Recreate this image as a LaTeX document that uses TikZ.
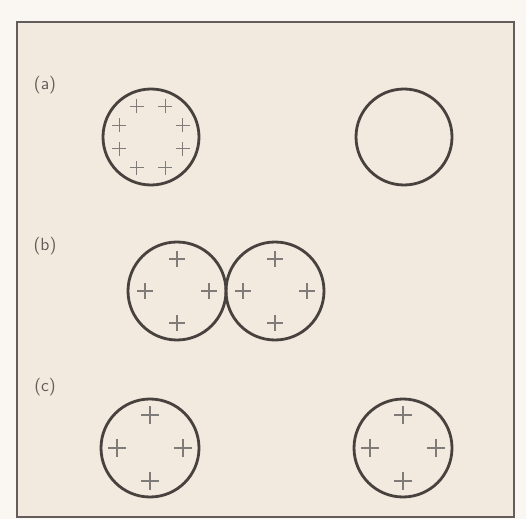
\documentclass[tikz,border=0pt]{standalone}
\definecolor{paper}{RGB}{243,234,223}
\definecolor{ink}{RGB}{72,66,62}
\tikzset{
  pics/charge/.style={code={\draw[line width=0.6pt, ink!70] (-#1,0) -- (#1,0) (0,-#1) -- (0,#1);}},
  pics/charge/.default=7
}
\begin{document}
\begin{tikzpicture}[x=0.02cm, y=-0.02cm,
    ring/.style={line width=1.6pt, ink},
    tag/.style={font=\sffamily, text=ink!85}]
    \useasboundingbox (0,0) rectangle (526,519);
    \fill[paper!45] (0,0) rectangle (526,519);
    \draw[line width=0.9pt, ink!85, fill=paper] (17,22) rectangle (514,517);

    % (a) charged drop and neutral drop
    \node[tag] (taga) at (45,85) {(a)};
    \draw[ring] (151,137) circle [radius=48];
    \foreach \a in {20,65,115,160,200,245,295,340}
        \pic[shift={(151,137)}] at (\a:34) {charge};
    \draw[ring] (404,137) circle [radius=48];

    % (b) drops touching
    \node[tag] (tagb) at (45,246) {(b)};
    \draw[ring] (177,291) circle [radius=49];
    \draw[ring] (275,291) circle [radius=49];
    \foreach \a in {0,90,180,270} {
        \pic[shift={(177,291)}] at (\a:32) {charge=8};
        \pic[shift={(275,291)}] at (\a:32) {charge=8};
    }

    % (c) drops apart again
    \node[tag] (tagc) at (45,387) {(c)};
    \draw[ring] (150,448) circle [radius=49];
    \draw[ring] (403,448) circle [radius=49];
    \foreach \a in {0,90,180,270} {
        \pic[shift={(150,448)}] at (\a:33) {charge=9};
        \pic[shift={(403,448)}] at (\a:33) {charge=9};
    }
\end{tikzpicture}
\end{document}
